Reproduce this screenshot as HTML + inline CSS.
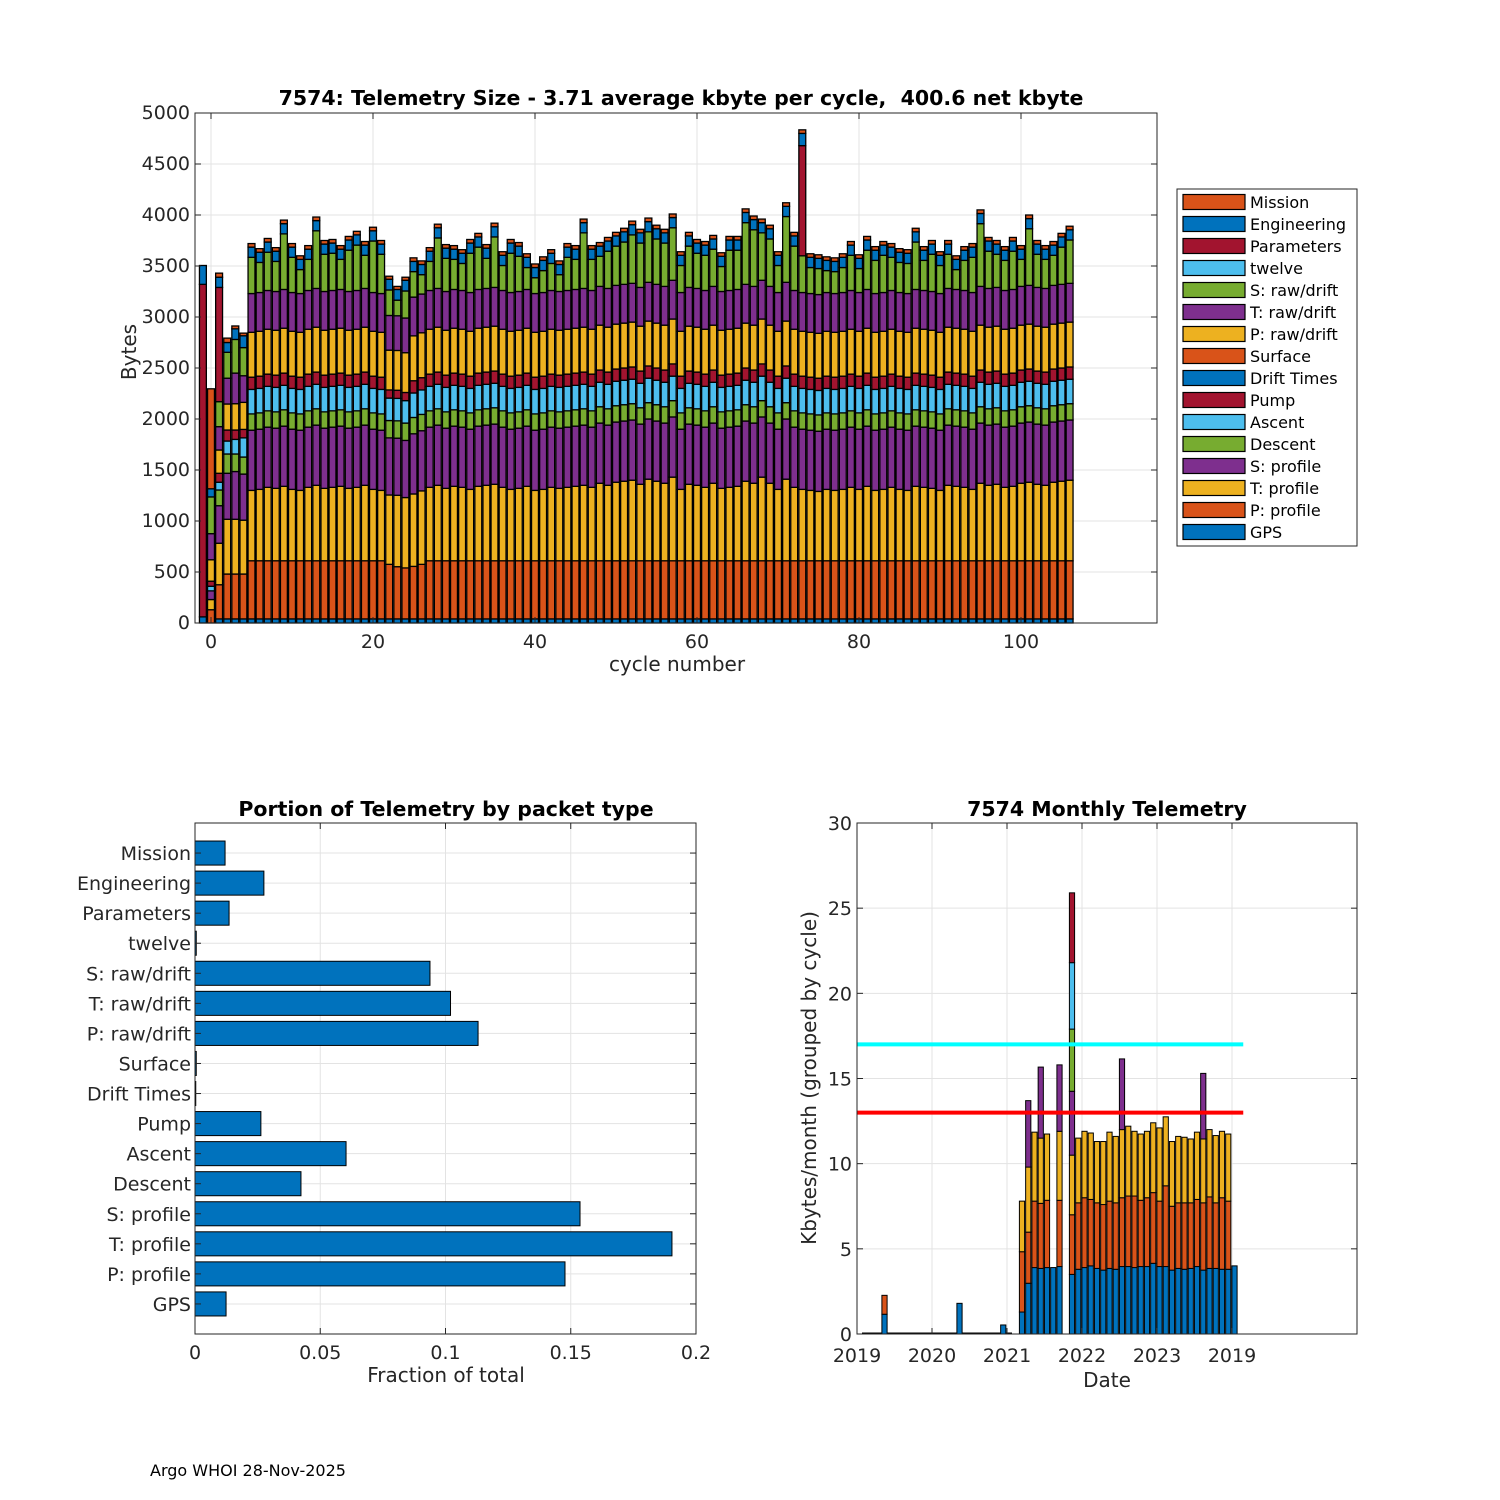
<!DOCTYPE html>
<html><head><meta charset="utf-8"><style>
html,body{margin:0;padding:0;background:#fff;}
svg{display:block;font-family:"DejaVu Sans","Liberation Sans",sans-serif;}
</style></head><body>
<svg id="fig" width="1500" height="1500" viewBox="0 0 1500 1500" xmlns="http://www.w3.org/2000/svg">
<rect x="0" y="0" width="1500" height="1500" fill="#fff"/>
<g id="top"></g>
<g id="bl"></g>
<g id="br"></g>
<text x="150" y="1476" font-size="16">Argo WHOI 28-Nov-2025</text>
</svg>
<script>
// ===== Top chart data (cycles -1..106) =====
const cycles = [-1,0,1,2,3,4,5,6,7,8,9,10,11,12,13,14,15,16,17,18,19,20,21,22,23,24,25,26,27,28,29,30,31,32,33,34,35,36,37,38,39,40,41,42,43,44,45,46,47,48,49,50,51,52,53,54,55,56,57,58,59,60,61,62,63,64,65,66,67,68,69,70,71,72,73,74,75,76,77,78,79,80,81,82,83,84,85,86,87,88,89,90,91,92,93,94,95,96,97,98,99,100,101,102,103,104,105,106];
const seriesNames = ["GPS","P: profile","T: profile","S: profile","Descent","Ascent","Pump","Drift Times","Surface","P: raw/drift","T: raw/drift","S: raw/drift","twelve","Parameters","Engineering","Mission"];
const seriesColors = ["#0072BD","#D95319","#EDB120","#7E2F8E","#77AC30","#4DBEEE","#A2142F","#0072BD","#D95319","#EDB120","#7E2F8E","#77AC30","#4DBEEE","#A2142F","#0072BD","#D95319"];
const gps = [60,0,40,40,40,40,
40,40,40,40,40,40,40,40,40,40,
40,40,40,40,40,40,40,40,40,40,
40,40,40,40,40,40,40,40,40,40,
40,40,40,40,40,40,40,40,40,40,
40,40,40,40,40,40,40,40,40,40,
40,40,40,40,40,40,40,40,40,40,
40,40,40,40,40,40,40,40,40,40,
40,40,40,40,40,40,40,40,40,40,
40,40,40,40,40,40,40,40,40,40,
40,40,40,40,40,40,40,40,40,40,
40,40];
const pProfile = [0,130,335,440,440,440,
570,570,570,570,570,570,570,570,570,570,
570,570,570,570,570,570,570,535,512,500,
515,535,570,570,570,570,570,570,570,570,
570,570,570,570,570,570,570,570,570,570,
570,570,570,570,570,570,570,570,570,570,
570,570,570,570,570,570,570,570,570,570,
570,570,570,570,570,570,570,570,570,570,
570,570,570,570,570,570,570,570,570,570,
570,570,570,570,570,570,570,570,570,570,
570,570,570,570,570,570,570,570,570,570,
570,570];
const tProfile = [0,100,407,537,537,528,
690,700,720,710,730,700,690,720,740,710,
720,730,710,720,740,700,690,680,700,690,
710,720,720,740,710,730,720,700,730,740,
750,720,700,710,730,690,700,720,710,720,
730,740,720,760,740,770,780,790,750,800,
780,760,820,700,750,740,720,760,710,720,
730,780,760,820,760,700,800,720,700,690,
680,700,690,700,720,700,730,690,700,720,
700,690,730,720,710,690,740,730,720,700,
760,740,750,720,730,760,770,750,740,770,
780,790];
const sProfile = [0,85,368,451,468,452,
590,590,590,590,590,590,590,590,590,590,
590,590,590,590,590,590,590,560,560,560,
590,590,590,590,590,590,590,590,590,590,
590,590,590,590,590,590,590,590,590,590,
590,590,590,590,590,590,590,590,590,590,
590,590,590,590,590,590,590,590,590,590,
590,590,590,590,590,590,590,590,590,590,
590,590,590,590,590,590,590,590,590,590,
590,590,590,590,590,590,590,590,590,590,
590,590,590,590,590,590,590,590,590,590,
590,590];
const descent = [0,0,154,189,172,167,
160,160,160,160,160,160,160,160,160,160,
160,160,160,160,160,160,160,170,170,170,
160,160,160,160,160,160,160,160,160,160,
160,160,160,160,160,160,160,160,160,160,
160,160,160,160,160,160,160,160,160,160,
160,160,160,160,160,160,160,160,160,160,
160,160,160,160,160,160,160,160,160,160,
160,160,160,160,160,160,160,160,160,160,
160,160,160,160,160,160,160,160,160,160,
160,160,160,160,160,160,160,160,160,160,
160,160];
const ascent = [0,45,76,127,143,188,
240,240,240,240,240,240,240,240,240,240,
240,240,240,240,240,240,240,220,220,220,
240,240,240,240,240,240,240,240,240,240,
240,240,240,240,240,240,240,240,240,240,
240,240,240,240,240,240,240,240,240,240,
240,240,240,240,240,240,240,240,240,240,
240,240,240,240,240,240,240,240,240,240,
240,240,240,240,240,240,240,240,240,240,
240,240,240,240,240,240,240,240,240,240,
240,240,240,240,240,240,240,240,240,240,
240,240];
const pump = [0,50,88,108,92,83,
120,120,120,120,120,120,120,120,120,120,
120,120,120,120,120,120,120,80,80,80,
120,120,120,120,120,120,120,120,120,120,
120,120,120,120,120,120,120,120,120,120,
120,120,120,120,120,120,120,120,120,120,
120,120,120,120,120,120,120,120,120,120,
120,120,120,120,120,120,120,120,120,120,
120,120,120,120,120,120,120,120,120,120,
120,120,120,120,120,120,120,120,120,120,
120,120,120,120,120,120,120,120,120,120,
120,120];
const driftTimes = [0,0,0,0,0,0,
0,0,0,0,0,0,0,0,0,0, 0,0,0,0,0,0,0,0,0,0, 0,0,0,0,0,0,0,0,0,0, 0,0,0,0,0,0,0,0,0,0,
0,0,0,0,0,0,0,0,0,0, 0,0,0,0,0,0,0,0,0,0, 0,0,0,0,0,0,0,0,0,0, 0,0,0,0,0,0,0,0,0,0,
0,0,0,0,0,0,0,0,0,0, 0,0,0,0,0,0,0,0,0,0, 0,0];
const surface = [0,0,0,0,0,0,
0,0,0,0,0,0,0,0,0,0, 0,0,0,0,0,0,0,0,0,0, 0,0,0,0,0,0,0,0,0,0, 0,0,0,0,0,0,0,0,0,0,
0,0,0,0,0,0,0,0,0,0, 0,0,0,0,0,0,0,0,0,0, 0,0,0,0,0,0,0,0,0,0, 0,0,0,0,0,0,0,0,0,0,
0,0,0,0,0,0,0,0,0,0, 0,0,0,0,0,0,0,0,0,0, 0,0];
const pRaw = [0,210,228,255,258,265,
440,440,440,440,440,440,440,440,440,440,
440,440,440,440,440,440,440,390,390,390,
440,440,440,440,440,440,440,440,440,440,
440,440,440,440,440,440,440,440,440,440,
440,440,440,440,440,440,440,440,440,440,
440,440,440,440,440,440,440,440,440,440,
440,440,440,440,440,440,440,440,440,440,
440,440,440,440,440,440,440,440,440,440,
440,440,440,440,440,440,440,440,440,440,
440,440,440,440,440,440,440,440,440,440,
440,440];
const tRaw = [0,256,229,253,300,261,
380,380,380,380,380,380,380,380,380,380,
380,380,380,380,380,380,380,340,340,340,
380,380,380,380,380,380,380,380,380,380,
380,380,380,380,380,380,380,380,380,380,
380,380,380,380,380,380,380,380,380,380,
380,380,380,380,380,380,380,380,380,380,
380,380,380,380,380,380,380,380,380,380,
380,380,380,380,380,380,380,380,380,380,
380,380,380,380,380,380,380,380,380,380,
380,380,380,380,380,380,380,380,380,380,
380,380];
const sRaw = [0,360,245,254,330,276,
355,295,375,295,545,345,235,305,565,365,
365,295,405,445,325,505,385,250,153,265,
250,190,285,495,325,295,265,385,415,295,
495,245,385,345,215,155,215,265,165,325,
295,545,305,295,365,385,415,475,435,495,
445,425,515,265,405,345,345,365,245,395,
385,605,555,465,465,265,645,435,360,255,
255,215,215,245,345,235,385,325,365,325,
295,295,465,295,365,275,335,195,295,345,
615,365,325,295,375,265,555,325,285,295,
365,425];
const twelve = [0,0,0,0,0,0,
0,0,0,0,0,0,0,0,0,0, 0,0,0,0,0,0,0,0,0,0, 0,0,0,0,0,0,0,0,0,0, 0,0,0,0,0,0,0,0,0,0,
0,0,0,0,0,0,0,0,0,0, 0,0,0,0,0,0,0,0,0,0, 0,0,0,0,0,0,0,0,0,0, 0,0,0,0,0,0,0,0,0,0,
0,0,0,0,0,0,0,0,0,0, 0,0,0,0,0,0,0,0,0,0, 0,0];
const parameters = [3260,0,1120,0,0,0,
0,0,0,0,0,0,0,0,0,0,
0,0,0,0,0,0,0,0,0,0,
0,0,0,0,0,0,0,0,0,0,
0,0,0,0,0,0,0,0,0,0,
0,0,0,0,0,0,0,0,0,0,
0,0,0,0,0,0,0,0,0,0,
0,0,0,0,0,0,0,0,1080,0,
0,0,0,0,0,0,0,0,0,0,
0,0,0,0,0,0,0,0,0,0,
0,0,0,0,0,0,0,0,0,0,
0,0];
const engineering = [185,80,100,96,104,116,
100,100,100,100,100,100,100,100,100,100,
100,100,100,100,100,100,100,105,105,105,
100,100,100,100,100,100,100,100,100,100,
100,100,100,100,100,100,100,100,100,100,
100,100,100,100,100,100,100,100,100,100,
100,100,100,100,100,100,100,100,100,100,
100,100,100,100,100,100,100,100,120,100,
100,100,100,100,100,100,100,100,100,100,
100,100,100,100,100,100,100,100,100,100,
100,100,100,100,100,100,100,100,100,100,
100,100];
const mission = [0,980,40,43,28,26,
35,35,35,35,35,35,35,35,35,35,
35,35,35,35,35,35,35,30,30,30,
35,35,35,35,35,35,35,35,35,35,
35,35,35,35,35,35,35,35,35,35,
35,35,35,35,35,35,35,35,35,35,
35,35,35,35,35,35,35,35,35,35,
35,35,35,35,35,35,35,35,35,35,
35,35,35,35,35,35,35,35,35,35,
35,35,35,35,35,35,35,35,35,35,
35,35,35,35,35,35,35,35,35,35,
35,35];
const topYTicks = [0,500,1000,1500,2000,2500,3000,3500,4000,4500,5000];
const topXTicks = [0,20,40,60,80,100];

// ===== Bottom-left data =====
const packetTypes = ["GPS","P: profile","T: profile","S: profile","Descent","Ascent","Pump","Drift Times","Surface","P: raw/drift","T: raw/drift","S: raw/drift","twelve","Parameters","Engineering","Mission"];
const packetFractions = [0.0124,0.1477,0.1904,0.1537,0.0423,0.0603,0.0263,0.0003,0.0005,0.113,0.102,0.0938,0.0005,0.0136,0.0275,0.012];
const fracTicks = [0,0.05,0.1,0.15,0.2];
const fracTickLabels = ["0","0.05","0.1","0.15","0.2"];

// ===== Bottom-right data (month index from Jan 2019) =====
const months = [4,16,23,26,27,28,29,30,31,32,34,35,36,37,38,39,40,41,42,43,44,45,46,47,48,49,50,51,52,53,54,55,56,57,58,59,60];
const mBlue   = [1.16,1.8,0.53,1.29,2.98,3.9,3.85,3.9,3.9,3.96,3.5,3.8,3.9,4.0,3.85,3.75,3.85,3.8,3.96,3.96,3.9,3.96,3.96,4.15,3.96,3.96,3.75,3.85,3.8,3.85,3.96,3.75,3.85,3.85,3.8,3.8,4.0];
const mOrange = [1.11,0,0,3.54,3.0,3.9,3.82,3.95,0,3.89,3.5,3.9,4.1,3.9,3.85,3.85,3.95,3.9,4.04,4.14,4.2,3.89,4.04,4.15,3.84,4.74,3.75,3.85,3.9,3.85,3.94,3.95,4.2,3.85,4.2,4.0,0];
const mYellow = [0,0,0,2.97,3.82,4.05,3.83,3.89,0,4.05,3.5,3.8,3.9,3.9,3.6,3.7,4.05,3.9,4.0,4.1,3.8,3.89,3.9,4.1,4.3,4.05,3.8,3.9,3.85,3.75,3.95,3.75,3.95,3.95,3.9,3.94,0];
const mPurple = [0,0,0,0,3.9,0,4.17,0,0,3.9,3.75,0,0,0,0,0,0,0,4.15,0,0,0,0,0,0,0,0,0,0,0,0,3.85,0,0,0,0,0];
const mGreen  = [0,0,0,0,0,0,0,0,0,0,3.65,0,0,0,0,0,0,0,0,0,0,0,0,0,0,0,0,0,0,0,0,0,0,0,0,0,0];
const mLight  = [0,0,0,0,0,0,0,0,0,0,3.9,0,0,0,0,0,0,0,0,0,0,0,0,0,0,0,0,0,0,0,0,0,0,0,0,0,0];
const mRed    = [0,0,0,0,0,0,0,0,0,0,4.1,0,0,0,0,0,0,0,0,0,0,0,0,0,0,0,0,0,0,0,0,0,0,0,0,0,0];
const monthColors = ["#0072BD","#D95319","#EDB120","#7E2F8E","#77AC30","#4DBEEE","#A2142F"];
const limitCyan = 17, limitRed = 13, limitEndMonth = 61.8;
const kbTicks = [0,5,10,15,20,25,30];
const yearTicks = [0,12,24,36,48,60];
const yearLabels = ["2019","2020","2021","2022","2023","2019"];

const NS = "http://www.w3.org/2000/svg";
function mk(parent, tag, attrs, text){
  const e = document.createElementNS(NS, tag);
  for (const k in attrs) e.setAttribute(k, attrs[k]);
  if (text !== undefined) e.textContent = text;
  parent.appendChild(e);
  return e;
}

// ---------- TOP CHART ----------
(function(){
  const g = document.getElementById('top');
  const L=195,R=1157,T=113,B=623;
  const xs = c => 211 + 8.1*c;
  const ys = v => B - v*(B-T)/5000;
  for (const t of topYTicks){
    const l = mk(g,'line',{x1:L,x2:R,y1:ys(t),y2:ys(t),stroke:'#e3e3e3','stroke-width':1});
    
    
  }
  for (const t of topXTicks){
    const l = mk(g,'line',{x1:xs(t),x2:xs(t),y1:T,y2:B,stroke:'#e3e3e3','stroke-width':1});
    
    
  }
  const all = [gps,pProfile,tProfile,sProfile,descent,ascent,pump,driftTimes,surface,pRaw,tRaw,sRaw,twelve,parameters,engineering,mission];
  const bw = 6.9;
  for (let i=0;i<cycles.length;i++){
    let acc = 0;
    for (let s=0;s<all.length;s++){
      const v = all[s][i];
      if (!v) continue;
      const r = mk(g,'rect',{x:xs(cycles[i])-bw/2,y:ys(acc+v),width:bw,height:ys(acc)-ys(acc+v),fill:seriesColors[s],stroke:'#000','stroke-width':1.3});
      
      
      acc += v;
    }
  }
  const box = mk(g,'rect',{x:L,y:T,width:R-L,height:B-T,fill:'none',stroke:'#262626','stroke-width':1});
  
  
  for (const t of topYTicks){
    mk(g,'line',{x1:L,x2:L+6,y1:ys(t),y2:ys(t),stroke:'#262626'});
    mk(g,'line',{x1:R,x2:R-6,y1:ys(t),y2:ys(t),stroke:'#262626'});
    const tx = mk(g,'text',{x:L-5,y:ys(t)+6,'font-size':19,'text-anchor':'end',fill:'#262626'},String(t));
    
    
  }
  for (const t of topXTicks){
    mk(g,'line',{x1:xs(t),x2:xs(t),y1:B,y2:B-6,stroke:'#262626'});
    mk(g,'line',{x1:xs(t),x2:xs(t),y1:T,y2:T+6,stroke:'#262626'});
    const tx = mk(g,'text',{x:xs(t),y:B+25,'font-size':19,'text-anchor':'middle',fill:'#262626'},String(t));
    
    
  }
  const title = mk(g,'text',{x:681,y:105,'font-size':20.5,'font-weight':'bold','text-anchor':'middle',fill:'#000','xml:space':'preserve',style:'white-space:pre'},"7574: Telemetry Size - 3.71 average kbyte per cycle,  400.6 net kbyte");
  
  
  const xl = mk(g,'text',{x:677,y:671,'font-size':20,'text-anchor':'middle',fill:'#262626'},"cycle number");
  
  
  const yl = mk(g,'text',{x:0,y:0,'font-size':20,'text-anchor':'middle',fill:'#262626',transform:'translate(136,352) rotate(-90)'},"Bytes");
  
  
  const lg = mk(g,'g',{});
  
  
  mk(lg,'rect',{x:1177,y:189,width:180,height:357,fill:'#fff',stroke:'#262626','stroke-width':1});
  for (let k=0;k<16;k++){
    const s = 15-k;
    const y = 202 + k*22;
    const sw = mk(lg,'rect',{x:1183,y:y-7.5,width:62,height:15,fill:seriesColors[s],stroke:'#000','stroke-width':1.2});
    
    
    const tx = mk(lg,'text',{x:1250,y:y+6,'font-size':16,fill:'#000'},seriesNames[s]);
    
    
  }
})();

// ---------- BOTTOM LEFT ----------
(function(){
  const g = document.getElementById('bl');
  const L=195,R=696,T=823,B=1334;
  const xs = v => L + v*(R-L)/0.2;
  const ys = i => B - (i+1)*(B-T)/17;
  for (const t of fracTicks){
    const l = mk(g,'line',{x1:xs(t),x2:xs(t),y1:T,y2:B,stroke:'#e3e3e3'});
    
    
  }
  for (let i=0;i<packetTypes.length;i++){
    const l = mk(g,'line',{x1:L,x2:R,y1:ys(i),y2:ys(i),stroke:'#e3e3e3'});
    
    
  }
  const bh = 0.8*(B-T)/17;
  for (let i=0;i<packetTypes.length;i++){
    const w = xs(packetFractions[i]) - L;
    const r = mk(g,'rect',{x:L,y:ys(i)-bh/2,width:w,height:bh,fill:'#0072BD',stroke:'#000','stroke-width':1});
    
    
    const tx = mk(g,'text',{x:L-4,y:ys(i)+7,'font-size':19,'text-anchor':'end',fill:'#262626'},packetTypes[i]);
    
    
    mk(g,'line',{x1:L,x2:L+6,y1:ys(i),y2:ys(i),stroke:'#262626'});
    mk(g,'line',{x1:R,x2:R-6,y1:ys(i),y2:ys(i),stroke:'#262626'});
  }
  const box = mk(g,'rect',{x:L,y:T,width:R-L,height:B-T,fill:'none',stroke:'#262626'});
  
  
  for (let k=0;k<fracTicks.length;k++){
    const t = fracTicks[k];
    mk(g,'line',{x1:xs(t),x2:xs(t),y1:B,y2:B-6,stroke:'#262626'});
    mk(g,'line',{x1:xs(t),x2:xs(t),y1:T,y2:T+6,stroke:'#262626'});
    const tx = mk(g,'text',{x:xs(t),y:B+25,'font-size':19,'text-anchor':'middle',fill:'#262626'},fracTickLabels[k]);
    
    
  }
  const title = mk(g,'text',{x:446,y:816,'font-size':20.5,'font-weight':'bold','text-anchor':'middle',fill:'#000'},"Portion of Telemetry by packet type");
  
  
  const xl = mk(g,'text',{x:446,y:1382,'font-size':20,'text-anchor':'middle',fill:'#262626'},"Fraction of total");
  
  
})();

// ---------- BOTTOM RIGHT ----------
(function(){
  const g = document.getElementById('br');
  const L=857,R=1357,T=823,B=1334;
  const xm = m => L + m*6.25;
  const ys = v => B - v*(B-T)/30;
  for (const t of kbTicks){
    const l = mk(g,'line',{x1:L,x2:R,y1:ys(t),y2:ys(t),stroke:'#e3e3e3'});
    
    
  }
  for (const t of yearTicks){
    const l = mk(g,'line',{x1:xm(t),x2:xm(t),y1:T,y2:B,stroke:'#e3e3e3'});
    
    
  }
  mk(g,'line',{x1:862,x2:1012,y1:B-0.8,y2:B-0.8,stroke:'#000','stroke-width':1.5});
  const stacks = [mBlue,mOrange,mYellow,mPurple,mGreen,mLight,mRed];
  const bw = 5.2;
  for (let i=0;i<months.length;i++){
    let acc = 0;
    const cx = xm(months[i]+0.4);
    for (let s=0;s<stacks.length;s++){
      const v = stacks[s][i];
      if (!v) continue;
      const r = mk(g,'rect',{x:cx-bw/2,y:ys(acc+v),width:bw,height:ys(acc)-ys(acc+v),fill:monthColors[s],stroke:'#000','stroke-width':1});
      
      
      acc += v;
    }
  }
  const lc = mk(g,'line',{x1:L,x2:xm(limitEndMonth),y1:ys(limitCyan),y2:ys(limitCyan),stroke:'#00FFFF','stroke-width':4});
  
  
  const lr = mk(g,'line',{x1:L,x2:xm(limitEndMonth),y1:ys(limitRed),y2:ys(limitRed),stroke:'#FF0000','stroke-width':4});
  
  
  const box = mk(g,'rect',{x:L,y:T,width:R-L,height:B-T,fill:'none',stroke:'#262626'});
  
  
  for (const t of kbTicks){
    mk(g,'line',{x1:L,x2:L+6,y1:ys(t),y2:ys(t),stroke:'#262626'});
    mk(g,'line',{x1:R,x2:R-6,y1:ys(t),y2:ys(t),stroke:'#262626'});
    const tx = mk(g,'text',{x:L-5,y:ys(t)+7,'font-size':19,'text-anchor':'end',fill:'#262626'},String(t));
    
    
  }
  for (let k=0;k<yearTicks.length;k++){
    const x = xm(yearTicks[k]);
    mk(g,'line',{x1:x,x2:x,y1:B,y2:B-6,stroke:'#262626'});
    mk(g,'line',{x1:x,x2:x,y1:T,y2:T+6,stroke:'#262626'});
    const tx = mk(g,'text',{x:x,y:B+28,'font-size':19,'text-anchor':'middle',fill:'#262626'},yearLabels[k]);
    
    
  }
  const title = mk(g,'text',{x:1107,y:816,'font-size':20.5,'font-weight':'bold','text-anchor':'middle',fill:'#000'},"7574 Monthly Telemetry");
  
  
  const xl = mk(g,'text',{x:1107,y:1387,'font-size':20,'text-anchor':'middle',fill:'#262626'},"Date");
  
  
  const yl = mk(g,'text',{x:0,y:0,'font-size':20,'text-anchor':'middle',fill:'#262626',transform:'translate(816,1078) rotate(-90)'},"Kbytes/month (grouped by cycle)");
  
  
})();
</script>
</body></html>
